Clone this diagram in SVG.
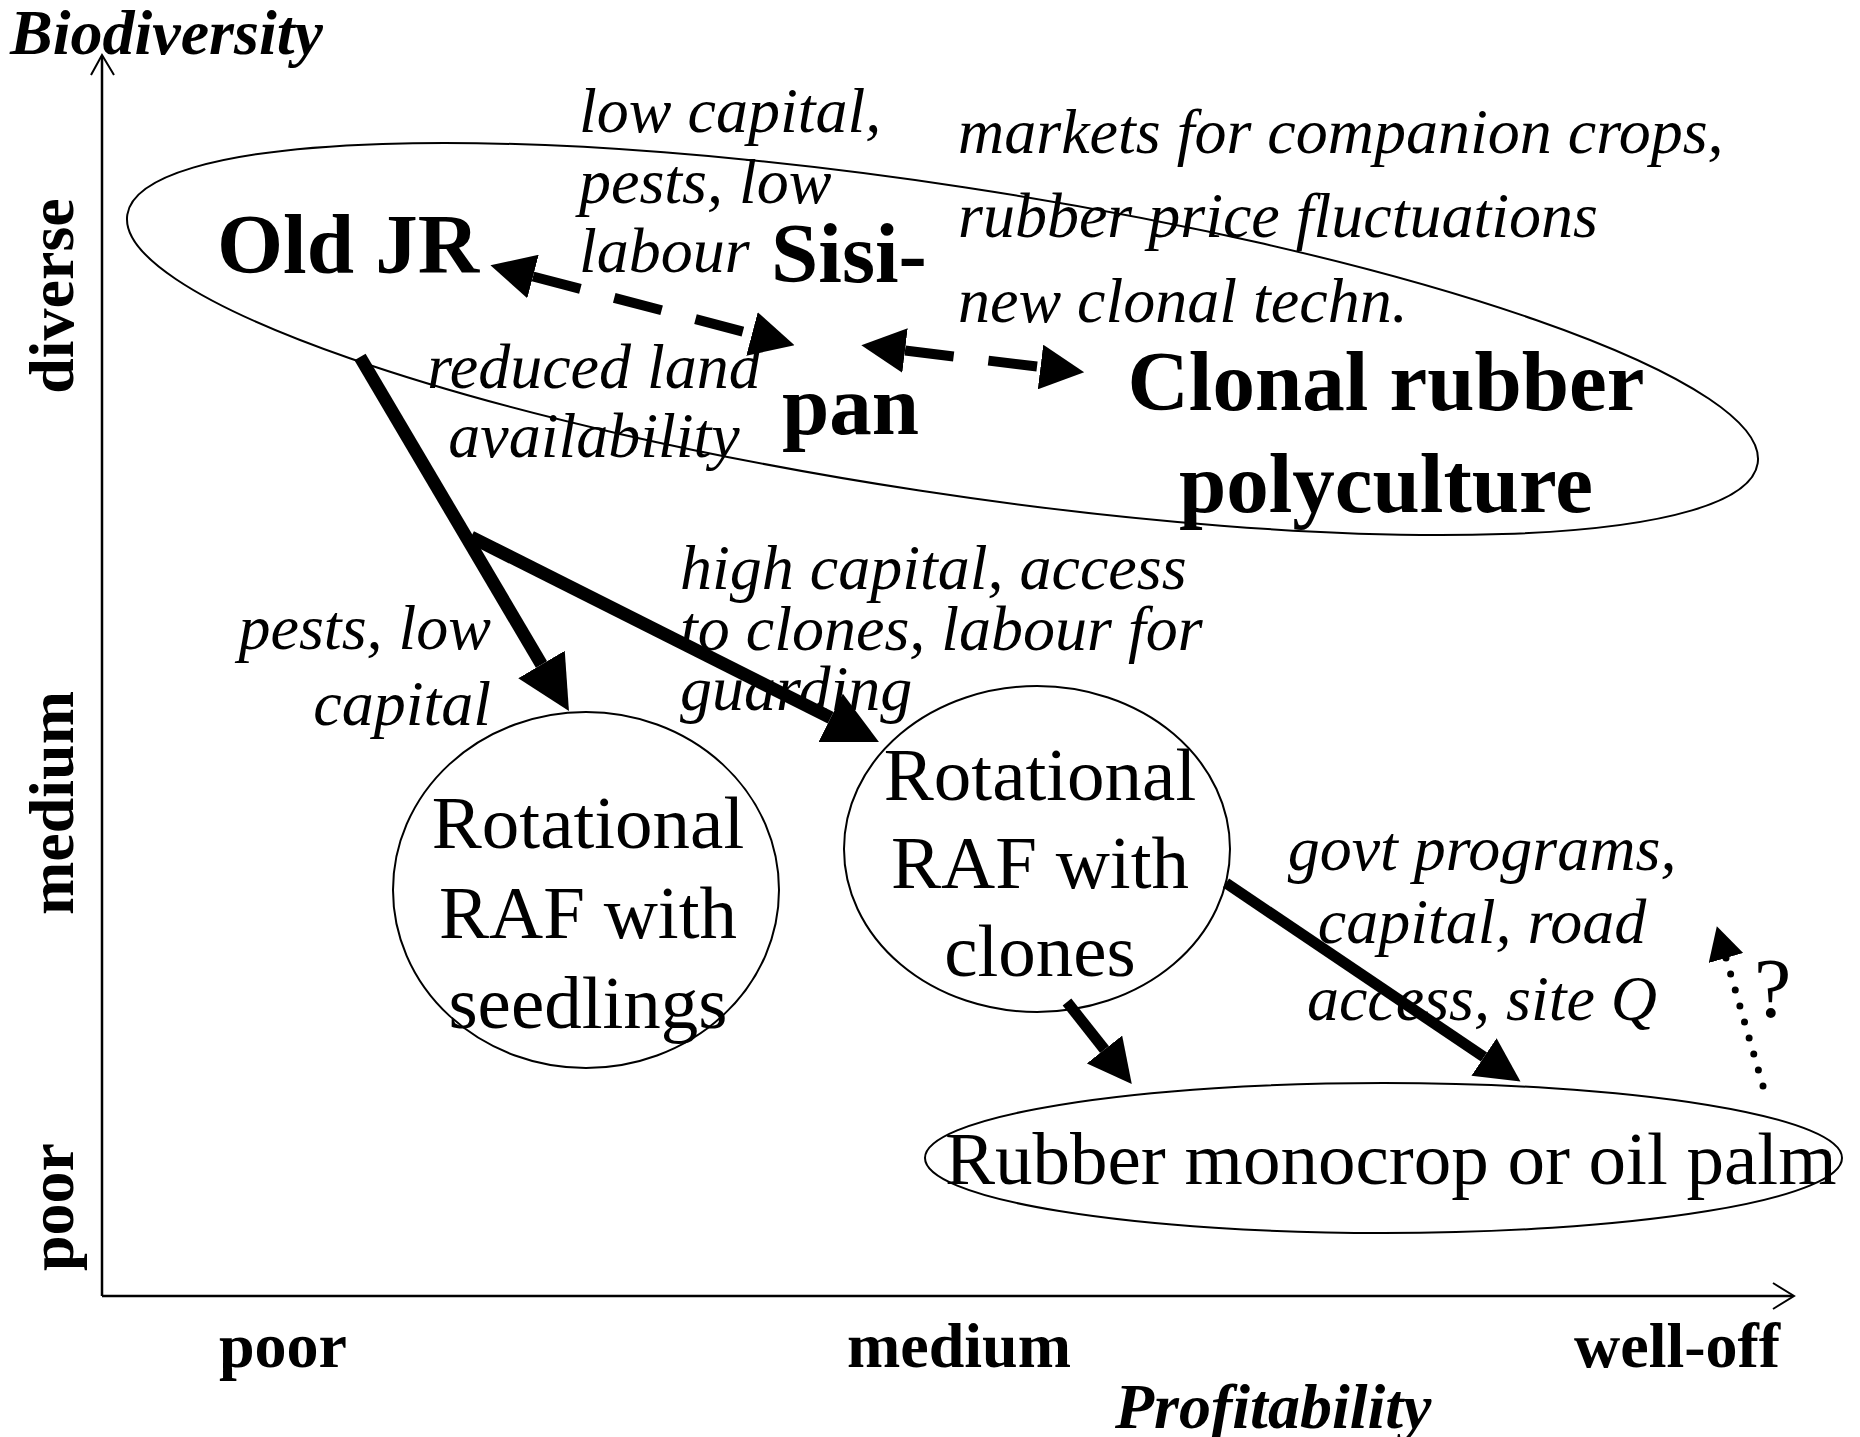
<svg xmlns="http://www.w3.org/2000/svg" width="1860" height="1437" viewBox="0 0 1860 1437">
  <style>
    text { font-family: "Liberation Serif", "Times New Roman", serif; fill: #000; }
    .axis-title { font-size: 64px; font-weight: bold; font-style: italic; }
    .tick { font-size: 64px; font-weight: bold; }
    .big { font-size: 85px; font-weight: bold; }
    .node { font-size: 75px; }
    .cond { font-size: 64px; font-style: italic; }
    .shape { fill: none; stroke: #000; stroke-width: 2; }
    .axis { fill: none; stroke: #000; stroke-width: 2.5; }
    .solid { fill: none; stroke: #000; stroke-width: 13; }
    .solid-m { fill: none; stroke: #000; stroke-width: 11; }
    .dashed { fill: none; stroke: #000; stroke-width: 10; stroke-dasharray: 49 35; }
    .dotted { fill: none; stroke: #000; stroke-width: 7; stroke-linecap: round; stroke-dasharray: 0 16.65; }
  </style>
  <defs>
    <marker id="headL" markerUnits="userSpaceOnUse" viewBox="0 0 54 54" markerWidth="54" markerHeight="54" refX="0" refY="27" orient="auto-start-reverse">
      <path d="M0,0 L54,27 L0,54 Z" fill="#000"/>
    </marker>
    <marker id="headM" markerUnits="userSpaceOnUse" viewBox="0 0 44 45" markerWidth="44" markerHeight="45" refX="0" refY="22.5" orient="auto-start-reverse">
      <path d="M0,0 L44,22.5 L0,45 Z" fill="#000"/>
    </marker>
    <marker id="headS" markerUnits="userSpaceOnUse" viewBox="0 0 33 36" markerWidth="33" markerHeight="36" refX="0" refY="18" orient="auto-start-reverse">
      <path d="M0,0 L33,18 L0,36 Z" fill="#000"/>
    </marker>
  </defs>

  <rect width="1860" height="1437" fill="#fff"/>

  <!-- axes -->
  <g id="axes">
    <path class="axis" d="M102,1296 L102,56"/>
    <polyline class="shape" points="91,75 102,55 114,75"/>
    <path class="axis" d="M102,1296 L1793,1296"/>
    <polyline class="shape" points="1773,1283 1794,1296 1773,1309"/>
    <text class="axis-title" x="10" y="54">Biodiversity</text>
    <text class="tick" text-anchor="middle" transform="translate(73,296) rotate(-90)">diverse</text>
    <text class="tick" text-anchor="middle" transform="translate(73,803) rotate(-90)">medium</text>
    <text class="tick" text-anchor="middle" transform="translate(73,1207) rotate(-90)">poor</text>
    <text class="tick" x="219" y="1367">poor</text>
    <text class="tick" x="847" y="1367">medium</text>
    <text class="tick" x="1574" y="1367">well-off</text>
    <text class="axis-title" x="1115" y="1428">Profitability</text>
  </g>

  <!-- diverse systems -->
  <g id="diverse-systems">
    <ellipse class="shape" cx="942.5" cy="339" rx="824.6" ry="153.3" transform="rotate(8.67 942.5 339)"/>
  </g>
  <g id="old-jr">
    <text class="big" x="217" y="273">Old JR</text>
  </g>
  <g id="sisipan">
    <text class="big" x="771" y="282">Sisi-</text>
    <text class="big" x="782" y="434">pan</text>
  </g>
  <g id="clonal-polyculture">
    <text class="big" text-anchor="middle" x="1386" y="410">Clonal rubber</text>
    <text class="big" text-anchor="middle" x="1386" y="512">polyculture</text>
  </g>

  <g id="raf-seedlings">
    <ellipse class="shape" cx="586" cy="890" rx="193" ry="178"/>
    <text class="node" text-anchor="middle" x="588" y="848">Rotational</text>
    <text class="node" text-anchor="middle" x="588" y="938">RAF with</text>
    <text class="node" text-anchor="middle" x="588" y="1028">seedlings</text>
  </g>

  <g id="raf-clones">
    <ellipse class="shape" cx="1037" cy="849" rx="193" ry="163"/>
    <text class="node" text-anchor="middle" x="1040" y="800">Rotational</text>
    <text class="node" text-anchor="middle" x="1040" y="888">RAF with</text>
    <text class="node" text-anchor="middle" x="1040" y="976">clones</text>
  </g>

  <g id="monocrop">
    <ellipse class="shape" cx="1383.5" cy="1158" rx="458.5" ry="75"/>
    <text class="node" x="945" y="1184">Rubber monocrop or oil palm</text>
  </g>

  <!-- transitions between systems -->
  <g id="connectors">
    <path class="dashed" d="M533,276.5 L752,334" marker-start="url(#headM)" marker-end="url(#headM)"/>
    <path class="dashed" d="M905,350.5 L1040.5,367" marker-start="url(#headM)" marker-end="url(#headM)"/>
    <path class="solid" d="M360,357 L541.5,664.5" marker-end="url(#headL)"/>
    <path class="solid" d="M471,537 L830.7,717.8" marker-end="url(#headL)"/>
    <path class="solid-m" d="M1067,1002 L1104.5,1049.5" marker-end="url(#headM)"/>
    <path class="solid-m" d="M1226,883 L1484,1057" marker-end="url(#headM)"/>
    <path class="dotted" d="M1763,1086 L1726,958" marker-end="url(#headS)"/>
  </g>

  <!-- driving conditions -->
  <g id="conditions">
    <text class="cond" x="579" y="132">low capital,</text>
    <text class="cond" x="579" y="203">pests, low</text>
    <text class="cond" x="579" y="272">labour</text>
    <text class="cond" x="958" y="153">markets for companion crops,</text>
    <text class="cond" x="958" y="237">rubber price fluctuations</text>
    <text class="cond" x="958" y="322">new clonal techn.</text>
    <text class="cond" text-anchor="middle" x="594" y="388">reduced land</text>
    <text class="cond" text-anchor="middle" x="594" y="457">availability</text>
    <text class="cond" text-anchor="end" x="491" y="649">pests, low</text>
    <text class="cond" text-anchor="end" x="491" y="725">capital</text>
    <text class="cond" x="680" y="589">high capital, access</text>
    <text class="cond" x="680" y="650">to clones, labour for</text>
    <text class="cond" x="680" y="710">guarding</text>
    <text class="cond" text-anchor="middle" x="1482" y="870">govt programs,</text>
    <text class="cond" text-anchor="middle" x="1482" y="943">capital, road</text>
    <text class="cond" text-anchor="middle" x="1482" y="1020">access, site Q</text>
    <text x="1754" y="1017" style="font-size:84px">?</text>
  </g>
</svg>
